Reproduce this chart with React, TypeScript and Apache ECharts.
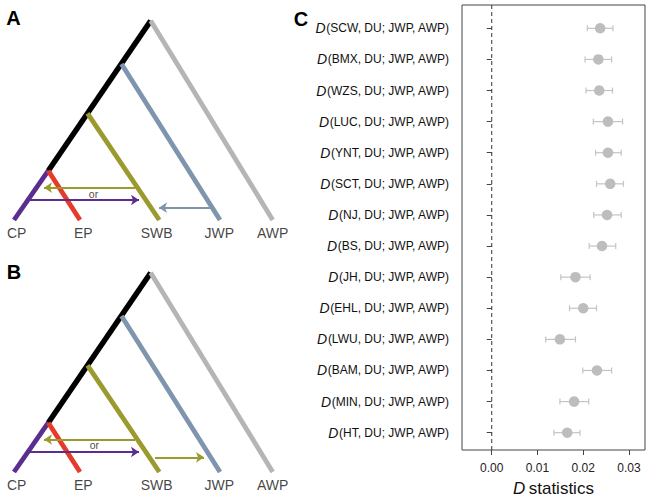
import React, { useEffect, useRef } from "react";
import * as echarts from "echarts";

// ---------- Panel C data ----------
const populations = ["SCW", "BMX", "WZS", "LUC", "YNT", "SCT", "NJ", "BS", "JH", "EHL", "LWU", "BAM", "MIN", "HT"];
const dValues = [0.0237, 0.0233, 0.0235, 0.0254, 0.0254, 0.0259, 0.0252, 0.0241, 0.0183, 0.0200, 0.0149, 0.0230, 0.0180, 0.0165];
const dLower = [0.0209, 0.0204, 0.0206, 0.0222, 0.0227, 0.0229, 0.0223, 0.0213, 0.0151, 0.0170, 0.0118, 0.0199, 0.0149, 0.0136];
const dUpper = [0.0265, 0.0262, 0.0264, 0.0286, 0.0283, 0.0288, 0.0283, 0.0271, 0.0215, 0.0229, 0.0183, 0.0262, 0.0212, 0.0193];
const xTicks = [0, 0.01, 0.02, 0.03];

// ---------- Panels A/B tree data (tree units) ----------
const branchFrom = [[150.7, 20.7], [150.7, 20.7], [121.5, 64], [87.5, 113.3], [48.3, 170.7], [48.3, 170.7]];
const branchTo = [[48.3, 170.7], [272.7, 220], [220, 220], [159.3, 220], [14, 220], [80, 220]];
const branchColors = ["#000000", "#b5b5b5", "#7f95ad", "#9a9a2e", "#5a2d8e", "#e63a2a"];
const tipNames = ["CP", "EP", "SWB", "JWP", "AWP"];
const tipX = [16.7, 83.3, 156.7, 219.3, 272.7];
const tipLabelY = 233;

const arrowsAFrom = [[135, 187.7], [30, 200], [211.7, 207.7]];
const arrowsATo = [[44, 187.7], [139, 200], [159, 207.7]];
const arrowsAColors = ["#9a9a2e", "#5a2d8e", "#7f95ad"];
const arrowsBFrom = [[135, 187.5], [30, 200], [155, 205.3]];
const arrowsBTo = [[44, 187.5], [139, 200], [204, 205.3]];
const arrowsBColors = ["#9a9a2e", "#5a2d8e", "#9a9a2e"];
const orLabelA = [93.5, 193.5];
const orLabelB = [94.3, 193];

const FONT = "Liberation Sans, Arial, sans-serif";

function treeSeries(grid: number, aFrom: number[][], aTo: number[][], aColors: string[], orPos: number[]) {
  return [
    {
      type: "lines",
      coordinateSystem: "cartesian2d",
      xAxisIndex: grid,
      yAxisIndex: grid,
      silent: true,
      z: 2,
      symbol: ["none", "none"],
      data: branchFrom.map((f, i) => ({
        coords: [f, branchTo[i]],
        lineStyle: { color: branchColors[i], width: i === 0 ? 5.5 : 4.8, opacity: 1, cap: "butt" },
      })),
    },
    {
      type: "lines",
      coordinateSystem: "cartesian2d",
      xAxisIndex: grid,
      yAxisIndex: grid,
      silent: true,
      z: 3,
      symbol: ["none", "arrow"],
      symbolSize: [7, 8],
      data: aFrom.map((f, i) => ({
        coords: [f, aTo[i]],
        lineStyle: { color: aColors[i], width: 2, opacity: 1 },
        itemStyle: { color: aColors[i] },
      })),
    },
    {
      type: "scatter",
      xAxisIndex: grid,
      yAxisIndex: grid,
      silent: true,
      symbolSize: 0,
      z: 4,
      label: {
        show: true,
        position: "inside",
        formatter: "{b}",
        fontFamily: FONT,
        fontSize: 14,
        color: "#111",
      },
      data: tipNames.map((n, i) => ({ name: n, value: [tipX[i], tipLabelY] })),
    },
    {
      type: "scatter",
      xAxisIndex: grid,
      yAxisIndex: grid,
      silent: true,
      symbolSize: 0,
      z: 4,
      label: {
        show: true,
        position: "inside",
        formatter: "{b}",
        fontFamily: FONT,
        fontSize: 10.5,
        color: "#111",
      },
      data: [{ name: "or", value: orPos }],
    },
  ];
}

export default function App() {
  const ref = useRef<HTMLDivElement>(null);
  useEffect(() => {
    if (!ref.current) return;
    const chart = echarts.init(ref.current, null, { renderer: "svg" });
    const xMin = -0.0065;
    const xMax = 0.0335;
    const treeX = { type: "value", min: 0, max: 300, show: false };
    const treeY = { type: "value", min: 0, max: 250, inverse: true, show: false };
    const option: any = {
      animation: false,
      backgroundColor: "#ffffff",
      textStyle: { fontFamily: FONT },
      grid: [
        { left: 0, top: 0, width: 300, height: 250 },
        { left: 0, top: 252, width: 300, height: 250 },
        { left: 462, top: 5, width: 183, height: 451, show: true, borderColor: "#444", borderWidth: 1, backgroundColor: "transparent" },
        { left: 462, top: 12.75, width: 183, height: 435.5 },
      ],
      xAxis: [
        { ...treeX, gridIndex: 0 },
        { ...treeX, gridIndex: 1 },
        {
          gridIndex: 2,
          type: "value",
          min: xMin,
          max: xMax,
          axisLine: { show: false },
          splitLine: { show: false },
          axisTick: { show: true, length: 5, lineStyle: { color: "#444" }, customValues: xTicks },
          axisLabel: {
            show: true,
            customValues: xTicks,
            formatter: (v: number) => v.toFixed(2),
            fontFamily: FONT,
            fontSize: 12,
            color: "#222",
            margin: 12,
          },
          name: "{i|D} {t|statistics}",
          nameLocation: "middle",
          nameGap: 30,
          nameTextStyle: {
            rich: {
              i: { fontFamily: FONT, fontSize: 17, fontStyle: "italic", color: "#111" },
              t: { fontFamily: FONT, fontSize: 17, color: "#111" },
            },
          },
        },
        { gridIndex: 3, type: "value", min: xMin, max: xMax, show: false },
      ],
      yAxis: [
        { ...treeY, gridIndex: 0 },
        { ...treeY, gridIndex: 1 },
        { gridIndex: 2, type: "value", min: 0, max: 1, show: false },
        {
          gridIndex: 3,
          type: "category",
          inverse: true,
          data: populations,
          axisLine: { show: false },
          axisTick: { show: true, length: 5, alignWithLabel: true, lineStyle: { color: "#444" } },
          splitLine: { show: false },
          axisLabel: {
            margin: 13,
            formatter: (v: string) => `{i|D}{t|(${v}, DU; JWP, AWP)}`,
            rich: {
              i: { fontFamily: FONT, fontSize: 14, fontStyle: "italic", color: "#111" },
              t: { fontFamily: FONT, fontSize: 12, color: "#111" },
            },
          },
        },
      ],
      graphic: [
        { type: "text", x: 13.5, y: 17.5, style: { text: "A", font: `bold 20px ${FONT}`, fill: "#000", align: "center", verticalAlign: "middle" } },
        { type: "text", x: 14, y: 271.7, style: { text: "B", font: `bold 20px ${FONT}`, fill: "#000", align: "center", verticalAlign: "middle" } },
        { type: "text", x: 301, y: 18.7, style: { text: "C", font: `bold 20px ${FONT}`, fill: "#000", align: "center", verticalAlign: "middle" } },
      ],
      series: [
        ...treeSeries(0, arrowsAFrom, arrowsATo, arrowsAColors, orLabelA),
        ...treeSeries(1, arrowsBFrom, arrowsBTo, arrowsBColors, orLabelB),
        {
          type: "line",
          xAxisIndex: 2,
          yAxisIndex: 2,
          silent: true,
          symbol: "none",
          lineStyle: { color: "#333", width: 1, type: [4, 3] },
          data: [[0, 0], [0, 1]],
        },
        {
          type: "custom",
          xAxisIndex: 3,
          yAxisIndex: 3,
          silent: true,
          z: 3,
          data: populations.map((p, i) => [i, dLower[i], dUpper[i]]),
          renderItem: (params: any, api: any) => {
            const idx = api.value(0);
            const lo = api.coord([api.value(1), idx]);
            const hi = api.coord([api.value(2), idx]);
            const st = { stroke: "#c4c4c4", lineWidth: 1.2 };
            return {
              type: "group",
              children: [
                { type: "line", shape: { x1: lo[0], y1: lo[1], x2: hi[0], y2: hi[1] }, style: st },
                { type: "line", shape: { x1: lo[0], y1: lo[1] - 3, x2: lo[0], y2: lo[1] + 3 }, style: st },
                { type: "line", shape: { x1: hi[0], y1: hi[1] - 3, x2: hi[0], y2: hi[1] + 3 }, style: st },
              ],
            };
          },
        },
        {
          type: "scatter",
          xAxisIndex: 3,
          yAxisIndex: 3,
          silent: true,
          z: 4,
          symbolSize: 10.5,
          itemStyle: { color: "#bdbdbd", opacity: 1 },
          data: dValues.map((d, i) => [d, i]),
        },
      ],
    };
    chart.setOption(option);
    return () => chart.dispose();
  }, []);
  return <div ref={ref} style={{ width: 650, height: 502, position: "absolute", left: 0, top: 0 }} />;
}
